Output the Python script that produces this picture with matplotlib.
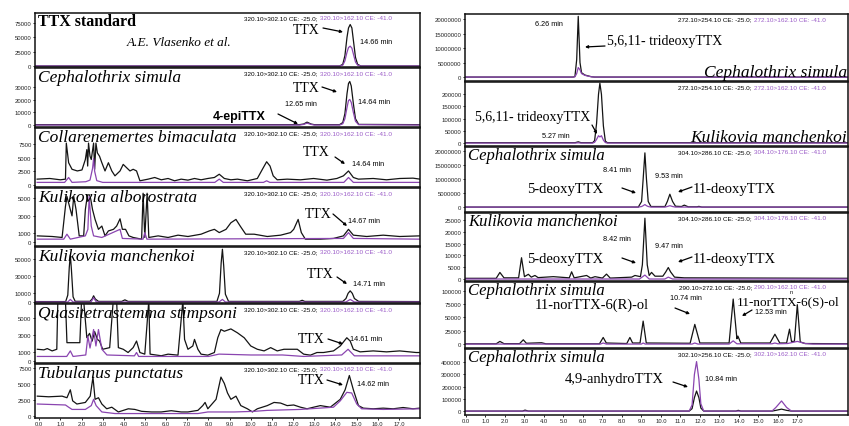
import matplotlib

matplotlib.use("Agg")
import matplotlib.pyplot as plt
from matplotlib.patches import FancyArrowPatch

W, H = 849, 427
BLACK = "#141414"
PURPLE = "#8a45b0"
HEAD_PURPLE = "#9b5cc8"
SERIF = "Liberation Serif"
SANS = "Liberation Sans"

# ---------------- data (retention time in min, intensity in counts) ----------------
# left column: TTX 320.10>302.10 (black) and 320.10>162.10 (purple)
std_t = [-0.2, 14.2, 14.35, 14.45, 14.55, 14.62, 14.7, 14.78, 14.85, 14.95, 15.05, 15.2, 18.0]
std_black = [0, 0, 3000, 18000, 50000, 66000, 72000, 66000, 45000, 15000, 3000, 0, 0]
std_purple = [0, 0, 1500, 9000, 24000, 32000, 34500, 31000, 21000, 7000, 1500, 0, 0]

cs_t = [-0.2, 12.3, 12.5, 12.66, 12.85, 13.0, 14.2, 14.35, 14.45, 14.55, 14.62, 14.68,
        14.75, 14.85, 14.95, 15.1, 18.0]
cs_black = [300, 300, 800, 2300, 800, 300, 300, 2000, 9000, 25000, 33000, 34600,
            31000, 17000, 5000, 500, 300]
cs_purple = [0, 0, 500, 1500, 500, 0, 0, 1000, 5000, 14000, 19500, 20300,
             18000, 10000, 3000, 300, 0]

cb_t = [-0.1, 0.5, 1.0, 1.24, 1.28, 1.39, 1.55, 1.8, 2.02, 2.18, 2.25, 2.29, 2.33, 2.4,
        2.46, 2.57, 2.62, 2.68, 2.75, 2.85, 2.96, 3.11, 3.27, 3.43, 3.58, 3.82, 3.97,
        4.13, 4.29, 4.44, 4.6, 4.76, 5.15, 5.46, 5.77, 6.09, 6.4, 6.71, 7.03, 7.34,
        7.65, 7.97, 8.28, 8.51, 8.75, 9.06, 9.37, 9.84, 10.31, 10.55, 10.75, 10.91,
        11.06, 11.25, 11.72, 12.35, 12.97, 13.6, 14.07, 14.38, 14.62, 14.85, 15.09,
        15.79, 16.42, 17.04, 17.67, 18.0]
cb_black = [1070, 1190, 950, 1070, 7620, 4050, 2860, 2560, 2740, 4640, 6430, 3450, 7620,
            5240, 4640, 7620, 2860, 7620, 5830, 5240, 4050, 2560, 4050, 2560, 1670, 2560,
            3750, 3150, 2560, 2860, 2560, 770, 1070, 1370, 950, 1190, 770, 1070, 890,
            1190, 950, 1190, 1370, 1960, 1190, 950, 1070, 770, 1190, 2860, 4230, 3450,
            1670, 950, 1070, 950, 1190, 890, 1190, 1670, 2560, 1370, 1070, 1190, 950,
            1190, 1250, 1070]
cb_tp = [-0.1, 1.2, 1.39, 1.55, 2.2, 2.4, 2.52, 2.57, 2.62, 2.72, 3.0, 8.3, 8.51, 8.7,
         10.6, 10.75, 10.9, 14.4, 14.62, 14.85, 18.0]
cb_purple = [480, 480, 1370, 480, 600, 900, 3000, 4800, 2500, 800, 480, 480, 1070, 480,
             480, 770, 480, 480, 1370, 480, 480]

ka_t = [-0.09, 0.61, 1.08, 1.24, 1.31, 1.47, 1.55, 1.63, 1.74, 1.89, 2.1, 2.18, 2.28,
        2.38, 2.44, 2.52, 2.64, 2.8, 2.96, 3.11, 3.27, 3.51, 3.66, 3.82, 3.93, 4.08,
        4.24, 4.44, 4.84, 4.91, 4.99, 5.1, 5.18, 5.62, 6.09, 6.56, 7.03, 7.65, 8.04,
        8.28, 8.51, 8.83, 9.06, 9.3, 9.5, 9.76, 10.16, 10.78, 11.41, 11.88, 12.03,
        12.24, 12.39, 12.58, 13.29, 13.91, 14.38, 14.62, 14.85, 15.48, 16.26, 17.04,
        17.98]
ka_black = [700, 630, 520, 4040, 5150, 3670, 2960, 5150, 3670, 700, 700, 3670, 5330,
            5330, 4780, 3670, 2560, 1440, 1810, 700, 1260, 1440, 1810, 2630, 1440, 1440,
            700, 520, 330, 5520, 520, 5520, 520, 700, 520, 780, 630, 890, 1260, 1440,
            1070, 1440, 2180, 2560, 1810, 890, 890, 630, 780, 1070, 1440, 2560, 1070,
            330, 330, 410, 700, 1440, 780, 630, 780, 630, 700]
ka_tp = [-0.09, 1.16, 1.31, 1.47, 2.18, 2.3, 2.36, 2.46, 2.57, 2.96, 3.82, 3.93, 4.91,
         4.99, 5.09, 14.38, 14.62, 14.85, 17.98]
ka_purple = [330, 330, 890, 330, 700, 1440, 5150, 1810, 700, 520, 1440, 410, 330, 1070,
             330, 410, 1070, 410, 330]

km_t = [-0.2, 1.25, 1.35, 1.42, 1.47, 1.52, 1.6, 1.7, 2.4, 2.5, 2.57, 2.65, 2.8, 3.9,
        4.05, 4.2, 8.4, 8.52, 8.6, 8.66, 8.72, 8.8, 8.95, 12.3, 12.43, 12.55, 14.35,
        14.5, 14.6, 14.7, 14.8, 14.9, 15.1, 18.0]
km_black = [500, 500, 8000, 40000, 54500, 38000, 6000, 800, 800, 3500, 7200, 3500, 700,
            700, 2500, 700, 700, 10000, 45000, 61000, 42000, 9000, 700, 700, 2000, 700,
            700, 4000, 10000, 12900, 10000, 4000, 700, 500]
km_tp = [-0.2, 1.35, 1.47, 1.6, 2.45, 2.57, 2.7, 8.5, 8.66, 8.8, 14.5, 14.7, 14.9, 18.0]
km_purple = [0, 0, 3000, 0, 0, 5000, 0, 0, 3000, 0, 0, 3000, 0, 0]

qs_t = [-0.09, 0.22, 0.38, 0.61, 0.83, 0.88, 1.24, 1.31, 1.55, 1.92, 2.0, 2.1, 2.25,
        2.38, 2.5, 2.62, 2.75, 2.85, 3.0, 3.33, 3.5, 3.66, 3.74, 3.97, 4.2, 4.44, 4.6,
        4.76, 4.99, 5.18, 5.24, 5.77, 6.09, 6.56, 6.79, 6.87, 7.03, 7.26, 7.34, 7.5,
        7.65, 7.97, 8.28, 8.44, 8.59, 8.75, 9.06, 9.37, 9.69, 10.0, 10.31, 10.63,
        10.94, 11.25, 11.57, 11.88, 12.2, 12.5, 12.82, 13.13, 13.44, 13.91, 14.23,
        14.54, 14.7, 14.85, 15.17, 15.79, 16.42, 17.04, 17.82, 18.0]
qs_black = [1360, 1290, 1440, 1170, 1360, 7000, 7000, 2120, 2120, 2120, 7000, 7000, 2700,
            3200, 2300, 3400, 2500, 2310, 1360, 1550, 7000, 7000, 1550, 1360, 985, 1550,
            2310, 985, 795, 7000, 795, 610, 795, 680, 7000, 2500, 1360, 1740, 2500, 1360,
            795, 680, 985, 2690, 3640, 3440, 3710, 3260, 2690, 1740, 1360, 1170, 1550,
            1170, 1360, 1360, 1360, 795, 680, 985, 985, 1170, 1740, 2690, 2310, 1360,
            1060, 1170, 1060, 1170, 985, 985]
qs_tp = [-0.09, 1.3, 1.47, 1.6, 2.2, 2.3, 2.4, 2.57, 2.68, 2.8, 2.96, 3.2, 4.5, 4.6, 4.7,
         8.0, 8.5, 10.0, 11.5, 12.5, 14.3, 14.6, 14.9, 15.2, 18.0]
qs_purple = [530, 530, 1170, 530, 700, 2880, 1500, 3640, 1740, 3640, 1360, 700, 600, 985,
             530, 530, 800, 700, 700, 530, 700, 1360, 600, 600, 600]

tp_t = [-0.09, 0.45, 1.08, 1.31, 1.47, 1.58, 1.78, 2.18, 2.41, 2.54, 2.64, 2.8, 2.96,
        3.19, 3.43, 3.74, 4.21, 4.52, 4.84, 5.31, 5.77, 6.24, 6.71, 7.03, 7.5, 7.73,
        7.84, 7.97, 8.36, 8.59, 8.75, 8.9, 9.06, 9.3, 9.53, 9.84, 10.08, 10.31, 10.78,
        11.1, 11.41, 11.72, 12.03, 12.35, 12.66, 12.97, 13.29, 13.76, 14.23, 14.46,
        14.66, 14.85, 15.09, 15.32, 15.79, 16.26, 16.73, 17.2, 17.67, 17.98]
tp_black = [3140, 3040, 3140, 2890, 4140, 2400, 1900, 2150, 3140, 6140, 2640, 2890, 1900,
            1150, 1400, 650, 1150, 1050, 750, 650, 650, 850, 650, 650, 900, 1650, 2150,
            1150, 2640, 6140, 5140, 3640, 2640, 3140, 1650, 1150, 650, 1150, 1650, 2150,
            2050, 1650, 1750, 1400, 1150, 1400, 1650, 1400, 2640, 4140, 6390, 4140, 1650,
            1250, 1150, 1250, 1150, 1350, 1150, 1250]
tp_tp = [-0.09, 1.24, 1.39, 1.55, 2.18, 2.46, 2.57, 2.69, 2.96, 3.58, 7.5, 7.97, 9.22,
         10.16, 10.78, 12.35, 13.91, 14.23, 14.54, 14.77, 15.01, 15.24, 16.26, 17.98]
tp_purple = [1900, 1750, 1400, 1050, 1050, 1650, 2640, 1650, 650, 400, 400, 650, 650, 750,
             900, 1050, 1400, 2400, 3740, 3640, 1900, 1150, 1050, 1150]

# right column: analogues
tri_cs_t = [-0.1, 5.5, 5.59, 5.68, 5.76, 5.85, 5.93, 6.1, 6.27, 6.44, 6.6, 19.9]
tri_cs_black = [0, 0, 200000, 6000000, 21000000, 5000000, 1500000, 700000, 400000,
                100000, 0, 0]
tri_cs_purple = [0, 0, 100000, 1200000, 3300000, 2500000, 1200000, 600000, 300000,
                 100000, 0, 0]

tri_km_t = [-0.1, 5.6, 5.76, 5.9, 6.5, 6.6, 6.7, 6.8, 6.87, 6.95, 7.05, 7.15, 7.25, 19.9]
tri_km_black = [1500, 1500, 5000, 1500, 1500, 10000, 80000, 200000, 245000, 200000,
                70000, 8000, 1500, 1500]
tri_km_purple = [0, 0, 1000, 0, 0, 3000, 15000, 30000, 25000, 30000, 12000, 2000, 0, 0]

deo_cs_t = [-0.1, 8.84, 9.01, 9.09, 9.18, 9.26, 9.35, 9.49, 10.21, 10.33, 10.46, 10.6,
            10.75, 11.06, 11.2, 11.4, 11.85, 11.95, 12.1, 19.9]
deo_cs_black = [0, 0, 2000000, 10000000, 19400000, 10000000, 2000000, 200000, 200000,
                2000000, 4600000, 2000000, 300000, 200000, 700000, 100000, 100000,
                250000, 0, 0]
deo_cs_purple = [0, 0, 200000, 500000, 900000, 500000, 200000, 0, 0, 200000, 500000,
                 200000, 0, 0, 0, 0, 0, 0, 0, 0]

deo_km_t = [-0.1, 1.55, 1.74, 1.95, 2.7, 2.85, 3.0, 3.2, 3.35, 3.54, 3.7, 4.48, 5.3,
            5.42, 5.55, 6.19, 6.4, 6.62, 7.0, 7.21, 7.4, 8.5, 8.67, 8.95, 9.05, 9.18,
            9.3, 9.4, 9.52, 9.7, 10.1, 10.25, 10.38, 10.5, 10.7, 11.2, 19.9]
deo_km_black = [300, 300, 2780, 500, 500, 9000, 1000, 2000, 800, 1500, 600, 1000, 500,
                3050, 500, 1500, 400, 1000, 400, 2080, 400, 800, 1500, 1000, 6000, 25700,
                6000, 1500, 2800, 1200, 1200, 3000, 4860, 3000, 800, 500, 300]
deo_km_tp = [-0.1, 8.9, 9.18, 9.4, 10.2, 10.38, 10.6, 19.9]
deo_km_purple = [0, 0, 1670, 0, 0, 800, 0, 0]

nor_t = [-0.1, 1.55, 1.74, 1.95, 2.75, 2.94, 3.1, 3.88, 4.1, 6.85, 7.04, 7.2, 8.25, 8.41,
         8.55, 8.93, 9.09, 9.25, 11.5, 11.74, 12.0, 13.5, 13.71, 13.9, 13.95, 14.1, 15.6,
         15.85, 16.1, 16.45, 16.6, 16.7, 16.85, 17.0, 17.15, 17.4, 19.9]
nor_black = [500, 500, 5000, 800, 800, 8000, 1500, 2500, 500, 500, 12400, 2000, 1000,
             12400, 2000, 2000, 43200, 2000, 1500, 37000, 2000, 2000, 84600, 10000, 15000,
             2000, 2000, 18500, 2000, 2000, 28000, 5000, 5000, 74000, 4000, 1000, 500]
nor_tp = [-0.1, 6.9, 7.04, 7.2, 9.0, 9.09, 9.2, 11.6, 11.74, 11.9, 13.5, 13.71, 13.9,
          15.7, 15.85, 16.0, 16.5, 17.0, 17.4, 17.8, 19.9]
nor_purple = [0, 0, 2000, 0, 0, 2000, 0, 0, 2000, 0, 0, 6000, 500, 500, 2000, 500, 1000,
              5000, 1000, 0, 0]

anh_t = [-0.1, 2.9, 3.03, 3.2, 11.45, 11.6, 11.72, 11.83, 11.95, 12.05, 12.2, 13.85,
         13.97, 14.1, 15.7, 15.9, 16.19, 16.45, 16.7, 19.9]
anh_black = [0, 0, 8000, 0, 0, 20000, 110000, 164000, 110000, 25000, 0, 0, 6000, 0, 0,
             6000, 16000, 6000, 0, 0]
anh_purple = [0, 0, 0, 0, 0, 50000, 300000, 405000, 260000, 60000, 0, 0, 0, 0, 0, 30000,
              83000, 30000, 0, 0]

left_ticks = [[0, 25000, 50000, 75000], [0, 10000, 20000, 30000], [0, 2500, 5000, 7500],
              [0, 1000, 3000, 5000], [0, 10000, 30000, 50000], [0, 1000, 3000, 5000],
              [0, 2500, 5000, 7500]]
right_ticks = [[0, 5000000, 10000000, 15000000, 20000000],
               [0, 50000, 100000, 150000, 200000],
               [0, 5000000, 10000000, 15000000, 20000000],
               [0, 5000, 10000, 15000, 20000, 25000],
               [0, 25000, 50000, 75000, 100000],
               [0, 100000, 200000, 300000, 400000]]
time_ticks = list(range(18))

left_traces = [(std_t, std_black, std_t, std_purple), (cs_t, cs_black, cs_t, cs_purple),
               (cb_t, cb_black, cb_tp, cb_purple), (ka_t, ka_black, ka_tp, ka_purple),
               (km_t, km_black, km_tp, km_purple), (qs_t, qs_black, qs_tp, qs_purple),
               (tp_t, tp_black, tp_tp, tp_purple)]
right_traces = [(tri_cs_t, tri_cs_black, tri_cs_t, tri_cs_purple),
                (tri_km_t, tri_km_black, tri_km_t, tri_km_purple),
                (deo_cs_t, deo_cs_black, deo_cs_t, deo_cs_purple),
                (deo_km_t, deo_km_black, deo_km_tp, deo_km_purple),
                (nor_t, nor_black, nor_tp, nor_purple),
                (anh_t, anh_black, anh_t, anh_purple)]

# ---------------- layout (pixels) ----------------
left_edges = [13, 68, 128, 188, 247, 304, 364, 419]
left_ylim = [(-1700, 92000), (-1560, 45300), (-357, 10360), (-444, 6110),
             (-1140, 63600), (-227, 6590), (-300, 8200)]
right_edges = [14, 82, 147, 213, 282, 349, 416]
right_ylim = [(-1.36e6, 21.8e6), (-12100, 250000), (-1.76e6, 21.5e6), (-833, 27900),
              (-7400, 116700), (-32000, 508000)]

fig = plt.figure(figsize=(W / 100, H / 100), dpi=100)
fig.patch.set_facecolor("white")


def fp(x, y):
    return x / W, 1 - y / H


def make_axes(x0, x1, top, bottom, xlim, ylim, yticks, show_x):
    ax = fig.add_axes([x0 / W, 1 - bottom / H, (x1 - x0) / W, (bottom - top) / H])
    ax.set_xlim(*xlim)
    ax.set_ylim(*ylim)
    ax.set_yticks(yticks)
    ax.set_yticklabels([str(v) for v in yticks], fontsize=4.3, family=SANS, color="#222")
    ax.tick_params(axis="y", length=1.5, width=0.6, pad=1)
    ax.set_xticks(time_ticks)
    if show_x:
        ax.set_xticklabels([f"{v:.1f}" for v in time_ticks], fontsize=4.2, family=SANS,
                           color="#222")
        ax.tick_params(axis="x", length=1.5, width=0.6, pad=1)
    else:
        ax.set_xticklabels([])
        ax.tick_params(axis="x", length=0)
    for s in ax.spines.values():
        s.set_linewidth(1.1)
        s.set_color("#111")
    return ax


def draw(ax, tr):
    tb, yb, tpp, yp = tr
    ax.plot(tb, yb, color=BLACK, lw=0.9, solid_joinstyle="round")
    ax.plot(tpp, yp, color=PURPLE, lw=0.9, solid_joinstyle="round")


for i in range(7):
    ax = make_axes(35, 420, left_edges[i] + 1, left_edges[i + 1], (-0.2, 18.0),
                   left_ylim[i], left_ticks[i], i == 6)
    draw(ax, left_traces[i])

for i in range(6):
    ax = make_axes(465, 848, right_edges[i] + 1, right_edges[i + 1], (-0.05, 19.6),
                   right_ylim[i], right_ticks[i], i == 5)
    draw(ax, right_traces[i])


def txt(s, x, y, size, ha="left", va="center", family=SERIF, style="normal",
        weight="normal", color="black"):
    fig.text(*fp(x, y), s, fontsize=size, ha=ha, va=va, family=family, style=style,
             weight=weight, color=color)


def arrow(x0, y0, x1, y1):
    fig.add_artist(FancyArrowPatch(fp(x0, y0), fp(x1, y1), transform=fig.transFigure,
                                   arrowstyle="-|>", mutation_scale=4, lw=0.9,
                                   color="black", shrinkA=0, shrinkB=0))


def header(prefix, x_split, y, purple_part):
    txt(prefix + " CE: -25.0;", x_split - 1, y, 4.6, ha="right", family=SANS)
    txt(purple_part + " CE: -41.0", x_split + 1, y, 4.6, family=SANS, color=HEAD_PURPLE)


# left column headers and titles
left_titles = ["Cephalothrix simula", "Collarenemertes bimaculata", "Kulikovia alborostrata",
               "Kulikovia manchenkoi", "Quasitetrastemma stimpsoni", "Tubulanus punctatus"]
txt("TTX standard", 38, 14, 11.5, va="top", weight="bold")
for i, name in enumerate(left_titles):
    txt(name, 38, left_edges[i + 1] + 2, 12.5, va="top", style="italic")
for i in range(7):
    header("320.10>302.10", 319, left_edges[i] + 6, "320.10>162.10")

txt("A.E. Vlasenko et al.", 127, 43, 9.5, style="italic")

left_ttx = [(293, 30, 323, 29, 343, 33, 360, 42, "14.66 min"),
            (293, 88, 322, 88, 337, 93, 358, 102, "14.64 min"),
            (303, 153, 335, 158, 345, 165, 352, 165, "14.64 min"),
            (305, 215, 333, 215, 347, 227, 348, 222, "14.67 min"),
            (307, 275, 337, 278, 347, 285, 353, 285, "14.71 min"),
            (298, 340, 328, 340, 343, 345, 350, 340, "14.61 min"),
            (298, 381, 327, 381, 343, 386, 357, 385, "14.62 min")]
for lx, ly, ax0, ay0, ax1, ay1, mx, my, mt in left_ttx:
    txt("TTX", lx, ly, 10)
    arrow(ax0, ay0, ax1, ay1)
    txt(mt, mx, my, 5.2, family=SANS)

txt("4-epiTTX", 213, 117, 9, family=SANS, weight="bold")
arrow(278, 115, 298, 125)
txt("12.65 min", 285, 105, 5.2, family=SANS)

# right column headers and titles
right_heads = [("272.10>254.10", "272.10>162.10"), ("272.10>254.10", "272.10>162.10"),
               ("304.10>286.10", "304.10>176.10"), ("304.10>286.10", "304.10>176.10"),
               ("290.10>272.10", "290.10>162.10"), ("302.10>256.10", "302.10>162.10")]
for i, (a, b) in enumerate(right_heads):
    header(a, 753, right_edges[i] + 6, b)

txt("Cephalothrix simula", 847, 73, 12.5, ha="right", style="italic")
txt("Kulikovia manchenkoi", 847, 138, 12.5, ha="right", style="italic")
for i, name in zip([2, 3, 4, 5], ["Cephalothrix simula", "Kulikovia manchenkoi",
                                  "Cephalothrix simula", "Cephalothrix simula"]):
    txt(name, 468, right_edges[i] + 1, 12, va="top", style="italic")

txt("6.26 min", 535, 25, 5.2, family=SANS)
txt("5,6,11- trideoxyTTX", 607, 42, 10)
arrow(605, 47, 585, 48)

txt("5,6,11- trideoxyTTX", 475, 117, 10)
arrow(592, 126, 597, 135)
txt("5.27 min", 542, 137, 5.2, family=SANS)

for y0 in (0, 70):
    txt("8.41 min" if y0 == 0 else "8.42 min", 603, 170 + y0, 5.2, family=SANS)
    txt("9.53 min" if y0 == 0 else "9.47 min", 655, 177 + y0, 5.2, family=SANS)
    txt("5-deoxyTTX", 527, 190 + y0, 10.5)
    arrow(622, 189 + y0, 636, 194 + y0)
    txt("11-deoxyTTX", 693, 190 + y0, 10.5)
    arrow(692, 188 + y0, 678, 193 + y0)

txt("11-norTTX-6(R)-ol", 535, 305, 10.5)
txt("10.74 min", 670, 298, 5.2, family=SANS)
arrow(675, 309, 690, 315)
txt("11-norTTX-6(S)-ol", 737, 302, 9.5)
txt("12.53 min", 755, 312, 5.2, family=SANS)
arrow(752, 311, 742, 317)
txt("n", 790, 293, 4, family=SANS)

txt("4,9-anhydroTTX", 565, 380, 10.5)
arrow(673, 383, 688, 388)
txt("10.84 min", 705, 380, 5.2, family=SANS)

fig.savefig("out.png", dpi=100, facecolor="white")
